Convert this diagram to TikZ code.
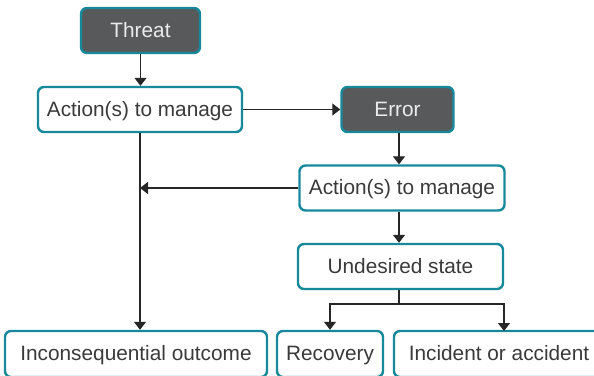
\documentclass[tikz,border=0pt]{standalone}
\usepackage{fontspec}
\setmainfont{Liberation Sans}
\usetikzlibrary{arrows.meta}
\definecolor{teal1}{HTML}{16899A}
\definecolor{darkfill}{HTML}{58595B}
\definecolor{txt}{HTML}{3A3A3A}
\tikzset{
  box/.style={draw=teal1, line width=2.4pt, rounded corners=6pt, fill=white,
    inner sep=0pt, minimum height=45pt, text=txt, text height=17.5pt, text depth=4pt,
    font=\fontsize{20.8pt}{24pt}\selectfont},
  darkbox/.style={box, fill=darkfill, text=white!92!black},
  conn/.style={draw=black!85, line width=1.2pt},
  arr/.style={conn, -{Triangle[width=12pt,length=8pt]}}
}
\begin{document}
\begin{tikzpicture}[x=1pt,y=1pt]
\clip (0,0) rectangle (594,-375);
\fill[white] (0,0) rectangle (594,-375);
\node[darkbox, minimum width=119pt] (thr) at (140.5,-30.5) {Threat};
\node[box, minimum width=204pt] (a1) at (140,-109.5) {Action(s) to manage};
\node[darkbox, minimum width=112pt] (err) at (397.5,-109.5) {Error};
\node[box, minimum width=205pt] (a2) at (402,-188) {Action(s) to manage};
\node[box, minimum width=205pt] (und) at (400.5,-266.5) {Undesired state};
\node[box, minimum width=262pt, minimum height=46pt] (inc) at (136,-354) {Inconsequential outcome};
\node[box, minimum width=106pt, minimum height=46pt] (rec) at (330,-354) {Recovery};
\node[box, minimum width=210pt, minimum height=46pt] (acc) at (499,-354) {Incident or accident};
\coordinate (lft) at (140,-188);
\coordinate (accin) at (504,-331);
\coordinate (split) at (399,-304);
\draw[arr] (thr.south) -- (thr.south |- a1.north);
\draw[arr] (a1.east) -- (err.west);
\draw[arr] (err.south -| split) -- (a2.north -| split);
\draw[arr] (a2.west) -- (lft);
\draw[arr] (a1.south) -- (a1.south |- inc.north);
\draw[arr] (a2.south -| split) -- (und.north -| split);
\draw[conn] (und.south -| split) -- (split);
\draw[arr] (split) -| (rec.north);
\draw[arr] (split) -| (accin);
\end{tikzpicture}
\end{document}
